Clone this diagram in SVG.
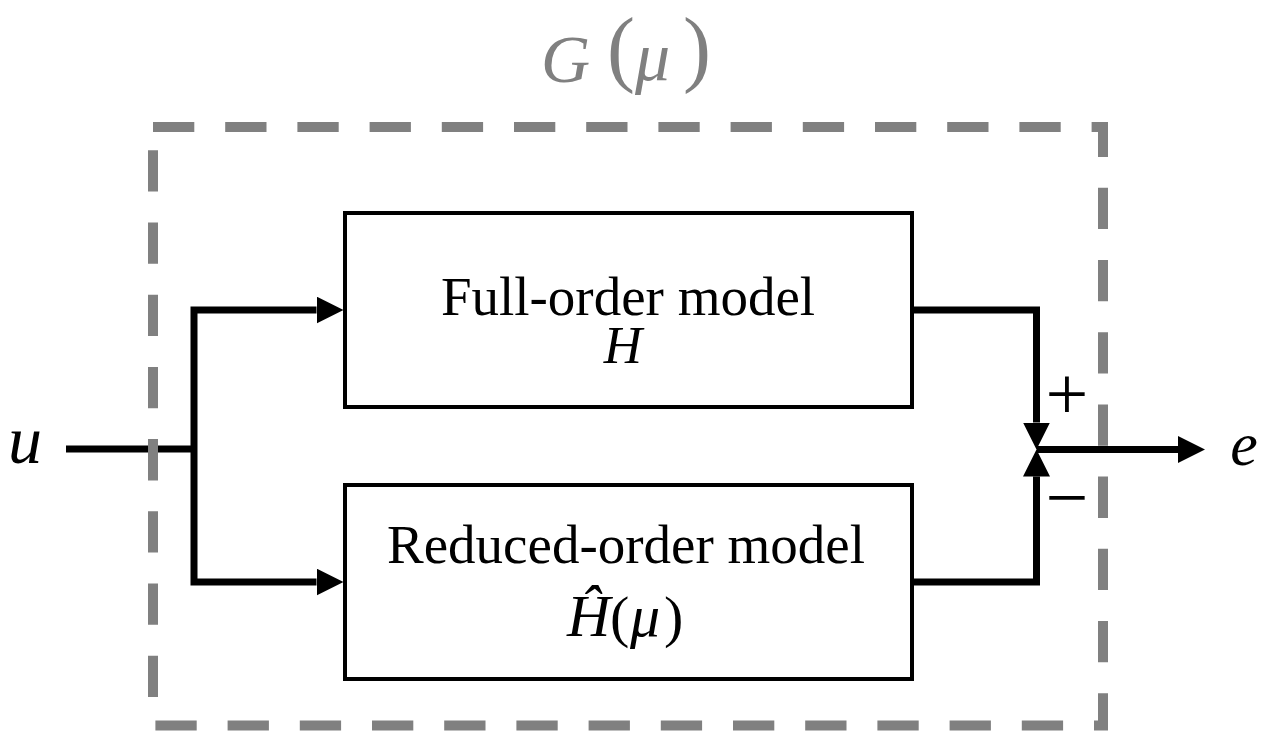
<svg xmlns="http://www.w3.org/2000/svg" width="1271" height="731" viewBox="0 0 1271 731">
  <style>
    .box { fill: #ffffff; stroke: #000000; stroke-width: 4; }
    .lbl { font-family: "Liberation Serif", "Times New Roman", serif; font-size: 55px; fill: #000000; text-anchor: middle; }
    .math { font-family: "Liberation Serif", "Times New Roman", serif; font-style: italic; fill: #000000; }
    .title { font-family: "Liberation Serif", "Times New Roman", serif; fill: #808080; }
    .wire { fill: none; stroke: #000000; stroke-width: 7; stroke-linejoin: miter; stroke-linecap: butt; }
    .frame { fill: none; stroke: #808080; stroke-width: 10; stroke-dasharray: 41.3 30.9; }
    .sign { font-family: "Liberation Serif", "Times New Roman", serif; font-size: 76px; fill: #000000; text-anchor: middle; }
  </style>
  <defs>
    <marker id="arrow" viewBox="0 -13.5 27 27" refX="0" refY="0" markerWidth="27" markerHeight="27" markerUnits="userSpaceOnUse" orient="auto-start-reverse">
      <path d="M0,-13.5 L27,0 L0,13.5 Z" fill="#000000"/>
    </marker>
  </defs>
  <rect width="1271" height="731" fill="#ffffff"/>

  <g id="connectors-in">
    <path class="wire" d="M66,449 H194"/>
  </g>

  <g id="frame">
    <rect class="frame" x="153" y="127" width="950" height="598.5"/>
    <text class="title" y="82"><tspan x="541" font-style="italic" font-size="68">G</tspan><tspan x="607" y="76" font-size="84">(</tspan><tspan x="635" y="80" font-style="italic" font-size="70">μ</tspan><tspan x="683" y="76" font-size="84">)</tspan></text>
  </g>

  <g id="node-full">
    <rect class="box" x="345" y="213" width="567" height="194"/>
    <text class="lbl" x="628" y="315">Full-order model</text>
    <text class="math" x="623" y="363" font-size="53" text-anchor="middle">H</text>
  </g>

  <g id="node-reduced">
    <rect class="box" x="345" y="485" width="567" height="194"/>
    <text class="lbl" x="626" y="563">Reduced-order model</text>
    <text class="math" y="636" font-size="60"><tspan x="567">Ĥ</tspan><tspan x="610" font-style="normal" font-size="58">(</tspan><tspan x="630">μ</tspan><tspan x="664" font-style="normal" font-size="58">)</tspan></text>
  </g>

  <g id="connectors">
    <path class="wire" d="M316.5,310 H194 V582 H316.5" marker-start="url(#arrow)" marker-end="url(#arrow)"/>
    <path class="wire" d="M912,310 H1036.5 V422.5" marker-end="url(#arrow)"/>
    <path class="wire" d="M912,582 H1036.5 V476.5" marker-end="url(#arrow)"/>
    <path class="wire" d="M1036.5,449.5 H1178" marker-end="url(#arrow)"/>
  </g>

  <g id="labels">
    <text class="math" x="25" y="463" font-size="68" text-anchor="middle">u</text>
    <text class="math" x="1244" y="465" font-size="62" text-anchor="middle">e</text>
    <text class="sign" x="1067" y="419">+</text>
    <text class="sign" x="1067" y="523">−</text>
  </g>
</svg>
